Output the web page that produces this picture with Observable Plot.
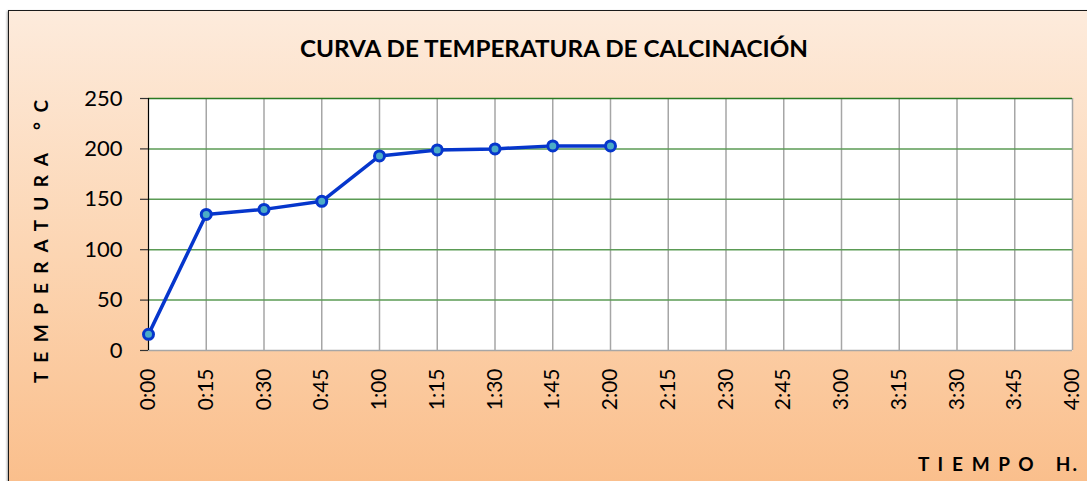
<!DOCTYPE html>
<html>
<head>
<meta charset="utf-8">
<script src="https://cdn.jsdelivr.net/npm/d3@7"></script>
<script src="https://cdn.jsdelivr.net/npm/@observablehq/plot@0.6"></script>
<style>
  html, body { margin: 0; padding: 0; background: #fff; overflow: hidden; }
  #wrap { position: relative; width: 1087px; height: 481px; }
  #bg {
    position: absolute; left: 8px; top: 10px; width: 1100px; height: 490px;
    border: 1.5px solid #1a1a1a;
    background: linear-gradient(to bottom, #fdebdc 0%, #fcd5b2 50%, #fabd89 100%);
    box-shadow: -1px 1px 2px rgba(0,0,0,0.35);
  }
  #chart { position: absolute; left: 0; top: 0; }
</style>
</head>
<body>
<div id="wrap"><div id="bg"></div><div id="chart"></div></div>
<script>
const timeMinutes = [0, 15, 30, 45, 60, 75, 90, 105, 120];
const temperature = [16, 135, 140, 148, 193, 199, 200, 203, 203];
const xTickMinutes = [0, 15, 30, 45, 60, 75, 90, 105, 120, 135, 150, 165, 180, 195, 210, 225, 240];
const xTickLabels = ["0:00","0:15","0:30","0:45","1:00","1:15","1:30","1:45","2:00","2:15","2:30","2:45","3:00","3:15","3:30","3:45","4:00"];
const yTicks = [0, 50, 100, 150, 200, 250];
const titleText = "CURVA DE TEMPERATURA DE CALCINACIÓN";
const yLabelText = "T E M P E R A T U R A   ° C";
const xLabelText = "T I E M P O   H.";

const data = timeMinutes.map((m, i) => ({m, t: temperature[i]}));
const labelOf = m => xTickLabels[xTickMinutes.indexOf(m)];
const font = "Lato, 'Open Sans', sans-serif";

const chart = Plot.plot({
  width: 1087, height: 481,
  marginLeft: 148, marginRight: 15, marginTop: 98, marginBottom: 131,
  style: {background: "transparent", fontFamily: font, color: "#000", overflow: "visible"},
  x: {domain: [0, 240]},
  y: {domain: [0, 250]},
  marks: [
    Plot.frame({fill: "white", stroke: null}),
    Plot.ruleX(xTickMinutes.slice(1), {stroke: "#a6a6a6", strokeWidth: 1.5}),
    Plot.ruleY(yTicks.slice(1, -1), {stroke: "#5b9b55", strokeWidth: 1.5}),
    Plot.ruleY([250], {stroke: "#2a7a22", strokeWidth: 1.5}),
    Plot.ruleY([0], {stroke: "#a6a6a6", strokeWidth: 1.5}),
    Plot.ruleX([0], {stroke: "#000", strokeWidth: 1.2}),
    Plot.axisY({ticks: yTicks, tickSize: 8, tickPadding: 18, fontSize: 22, stroke: "#333", strokeWidth: 1.2, label: null}),
    Plot.axisX({ticks: xTickMinutes, tickFormat: labelOf, tickRotate: -90, tickSize: 0, tickPadding: 18, fontSize: 21, label: null}),
    Plot.line(data, {x: "m", y: "t", stroke: "#0636cc", strokeWidth: 3.5}),
    Plot.dot(data, {x: "m", y: "t", r: 5, fill: "#4bacc6", stroke: "#0636cc", strokeWidth: 3})
  ]
});

const svg = d3.select(chart);
svg.append("text")
  .attr("x", 554).attr("y", 48)
  .attr("text-anchor", "middle").attr("dominant-baseline", "central")
  .attr("font-family", font).attr("font-weight", "bold").attr("font-size", 23)
  .attr("textLength", 508).attr("lengthAdjust", "spacingAndGlyphs")
  .attr("fill", "#000")
  .text(titleText);
svg.append("text")
  .attr("transform", "translate(40,241.5) rotate(-90)")
  .attr("text-anchor", "middle").attr("dominant-baseline", "central")
  .attr("font-family", font).attr("font-weight", "bold").attr("font-size", 19)
  .attr("textLength", 283).attr("lengthAdjust", "spacing")
  .attr("fill", "#000")
  .style("white-space", "pre")
  .text(yLabelText);
svg.append("text")
  .attr("x", 1077).attr("y", 463)
  .attr("text-anchor", "end").attr("dominant-baseline", "central")
  .attr("font-family", font).attr("font-weight", "bold").attr("font-size", 19)
  .attr("textLength", 159).attr("lengthAdjust", "spacing")
  .attr("fill", "#000")
  .style("white-space", "pre")
  .text(xLabelText);

document.getElementById("chart").appendChild(chart);
</script>
</body>
</html>
